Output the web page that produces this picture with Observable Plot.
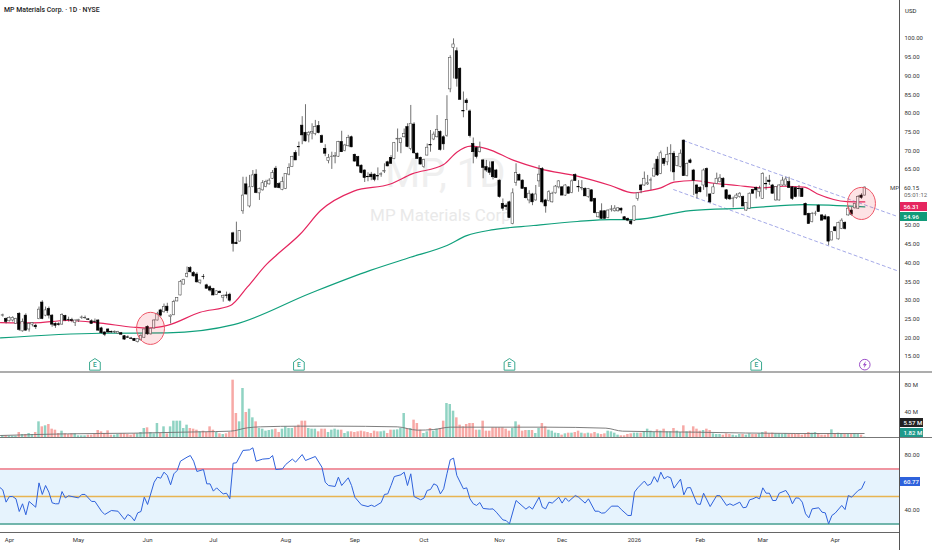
<!DOCTYPE html>
<html><head><meta charset="utf-8">
<script src="https://cdn.jsdelivr.net/npm/d3@7"></script>
<script src="https://cdn.jsdelivr.net/npm/@observablehq/plot@0.6"></script>
<style>
html,body{margin:0;padding:0;background:#fff;overflow:hidden}
#c{position:relative;width:932px;height:550px;font-family:Roboto,sans-serif;overflow:hidden}
#c>div.p{position:absolute;left:0}
.t{position:absolute;font-size:6px;line-height:9px;white-space:nowrap;color:#333}
.tag{position:absolute;left:900px;font-size:6px;height:9px;line-height:9px;padding:0 0 0 3.5px;color:#fff;font-weight:500;white-space:nowrap;box-sizing:content-box}
.l{position:absolute}
</style></head><body><div id="c"></div>
<script>
const opens=[25.9,25.0,24.4,24.6,23.7,26.4,21.7,25.9,22.2,23.5,
23.2,25.0,29.4,25.9,27.7,25.9,23.7,23.6,23.5,25.8,
24.8,24.7,23.9,24.5,25.3,25.2,24.9,24.4,24.3,24.6,
22.5,21.4,22.2,21.5,21.4,21.1,21.2,20.4,20.1,19.8,
19.7,18.8,19.3,20.0,22.9,20.9,22.5,24.6,27.3,26.8,
28.3,25.5,26.0,29.7,31.3,34.2,36.2,38.6,37.3,36.9,
34.6,36.3,34.0,33.5,33.0,31.4,32.3,30.7,31.3,31.5,
47.9,45.4,45.7,53.8,61.0,55.1,60.3,63.6,58.6,59.4,
60.3,61.0,62.5,65.2,61.1,59.5,59.8,63.6,65.6,69.4,
71.0,76.7,74.8,74.1,74.6,74.5,76.6,73.9,70.5,67.2,
68.3,68.3,68.4,72.3,69.9,71.2,73.6,68.9,68.3,66.0,
64.7,63.0,63.6,63.6,63.2,63.6,64.4,66.9,68.1,67.8,
73.0,72.0,73.6,76.3,70.5,77.0,69.2,68.1,65.6,68.7,
71.5,73.0,73.6,75.0,73.6,74.0,86.4,97.5,96.6,91.9,
80.6,83.4,80.5,71.8,70.7,69.6,67.4,65.6,65.3,66.9,
64.7,62.0,55.8,55.3,56.2,50.4,61.4,63.5,62.0,60.0,
56.7,58.3,56.7,61.8,65.1,56.7,56.5,56.2,58.6,60.2,
60.2,58.0,60.2,58.7,63.5,60.3,59.9,59.8,57.6,59.4,
57.1,52.2,53.8,53.8,52.0,54.2,53.8,53.8,54.5,52.2,
51.8,51.1,51.3,57.1,60.7,60.7,61.0,62.0,63.1,67.6,
63.8,67.8,66.9,69.0,69.2,65.9,65.6,72.7,63.2,67.4,
64.7,60.7,60.1,60.7,65.1,58.3,58.5,61.1,61.6,62.5,
59.4,58.0,57.1,57.3,57.6,57.6,54.0,54.5,59.5,60.0,
58.9,57.1,61.1,62.0,60.7,56.7,56.7,60.7,60.7,61.6,
60.2,60.0,59.8,59.8,55.8,53.1,50.9,53.1,55.3,52.7,
52.4,52.2,46.0,49.5,46.3,49.1,50.7,52.7,54.0,54.6,
54.5,58.0,58.0];
const highs=[26.3,25.3,25.6,25.6,25.2,26.7,25.0,26.4,23.9,24.0,
23.6,28.2,29.9,28.2,28.2,26.2,24.0,24.0,26.4,26.0,
25.5,25.2,24.7,24.9,25.8,25.8,25.1,24.8,25.0,24.8,
22.8,21.6,22.4,21.8,21.8,21.7,21.4,20.6,20.5,20.1,
19.8,19.8,20.8,22.3,23.2,22.5,24.8,26.8,27.6,29.0,
29.2,26.1,30.0,30.7,35.3,35.6,38.9,39.0,37.7,37.4,
35.3,36.9,34.3,33.9,33.2,32.5,32.5,31.4,32.2,31.9,
48.2,50.9,48.6,62.9,62.9,63.4,64.7,64.9,60.0,62.0,
62.1,62.5,64.7,65.8,61.5,62.9,63.9,66.5,68.5,70.0,
72.3,79.1,82.3,75.1,77.2,78.1,77.8,74.2,71.6,69.0,
69.6,69.5,72.5,75.2,71.7,74.1,73.9,69.1,68.5,66.2,
64.9,64.1,64.2,63.8,65.4,64.1,66.5,67.2,68.7,72.2,
75.8,73.4,75.8,77.2,82.1,77.5,69.4,68.3,67.7,71.8,
75.4,75.0,79.4,75.3,74.0,84.7,95.4,99.9,97.5,92.2,
85.7,83.9,80.9,73.4,71.0,72.3,67.6,67.4,67.0,67.1,
65.0,62.2,57.1,55.8,56.5,59.8,66.5,63.8,62.2,60.2,
59.3,58.6,60.7,66.0,65.5,57.0,59.3,58.9,60.7,62.0,
60.4,60.9,60.4,62.2,63.8,62.0,62.0,60.1,59.9,59.6,
57.3,53.3,55.8,54.0,54.2,55.3,55.3,54.8,54.7,52.4,
52.0,51.5,55.2,58.7,61.0,64.3,63.4,62.7,66.5,68.4,
69.9,68.0,70.9,71.6,69.8,68.3,70.2,72.9,66.7,67.8,
65.0,61.0,60.4,65.1,65.4,58.5,61.1,64.0,63.6,62.8,
59.6,58.2,57.6,58.5,58.8,57.9,56.0,58.7,59.7,60.3,
60.5,64.1,62.9,63.4,61.0,60.4,60.9,62.9,62.9,62.9,
60.4,60.3,60.7,60.0,56.0,53.3,53.5,53.8,55.5,52.9,
52.9,52.4,48.3,49.7,50.9,51.8,51.0,55.0,54.8,55.9,
58.0,58.5,60.3];
const lows=[25.5,23.7,24.2,24.2,23.6,21.7,21.5,21.7,21.5,22.9,
22.2,24.8,24.8,25.6,25.0,22.8,22.5,23.1,23.4,24.3,
24.2,24.0,23.0,24.1,24.9,24.9,24.6,23.6,23.8,21.7,
21.0,20.3,21.2,21.2,21.1,21.0,20.7,19.3,19.8,19.5,
19.0,18.6,19.1,19.8,20.6,20.7,22.3,24.5,25.5,26.6,
26.5,23.7,25.9,29.6,31.2,34.1,36.0,37.3,36.2,34.6,
34.2,35.5,33.0,32.2,31.2,31.3,31.8,29.5,30.4,29.5,
42.9,44.9,45.6,53.0,58.1,54.7,60.1,58.5,56.7,59.2,
60.1,60.8,62.3,59.9,59.8,59.3,59.6,63.3,65.5,67.4,
68.5,71.6,72.3,72.1,72.9,74.0,74.5,72.0,68.4,66.5,
65.0,66.5,68.2,69.5,69.7,71.0,70.8,66.9,65.6,63.8,
61.5,61.7,62.0,61.7,62.0,62.9,63.9,65.7,66.4,67.6,
69.6,69.2,73.4,70.8,70.0,69.1,67.7,66.2,65.3,68.6,
69.6,72.7,73.4,69.9,70.1,73.6,85.5,89.2,87.0,83.6,
78.8,80.7,73.4,66.5,67.8,69.4,62.5,64.2,63.4,62.2,
62.7,57.3,53.8,54.0,52.0,50.2,60.5,62.0,59.8,57.1,
55.8,55.3,56.5,60.2,55.8,53.3,56.3,56.0,58.4,59.8,
58.0,57.8,58.4,58.5,61.8,58.9,59.3,57.8,57.3,56.3,
53.1,52.0,51.6,51.6,51.8,53.6,53.6,53.6,53.1,51.4,
51.0,50.0,51.1,56.5,58.5,60.5,60.7,59.4,62.9,63.1,
63.6,65.8,66.0,64.3,61.9,65.7,65.4,63.2,63.0,66.5,
58.0,57.1,58.7,59.4,57.6,55.8,58.3,60.9,61.4,60.1,
56.7,56.7,54.7,57.0,57.3,55.0,53.8,54.3,58.3,57.1,
57.6,57.0,59.4,60.7,58.4,56.5,56.5,60.5,60.5,60.0,
56.7,57.4,57.6,57.6,52.7,50.4,50.7,52.5,53.5,51.3,
51.5,44.6,45.9,48.3,46.1,48.9,48.8,52.5,52.5,54.4,
54.3,57.0,57.9];
const closes=[26.0,24.2,25.3,25.3,25.0,22.1,24.2,21.9,23.7,23.9,
22.8,27.5,25.0,27.3,25.9,23.5,23.2,23.4,26.1,24.6,
24.7,24.5,24.6,24.8,25.4,25.3,24.8,23.7,24.2,21.9,
21.2,20.8,21.4,21.4,21.6,21.5,20.8,19.5,20.0,19.7,
19.1,19.7,20.5,22.2,20.9,22.4,24.6,26.4,25.9,28.2,
27.1,25.9,29.5,30.6,34.9,35.5,37.1,37.5,36.4,34.8,
35.3,36.2,33.1,32.6,31.3,32.4,31.9,31.2,31.2,29.9,
45.1,45.0,48.5,58.0,58.3,60.2,63.4,58.7,59.8,61.3,
61.6,62.0,64.0,60.1,60.0,61.6,63.8,65.4,68.3,67.4,
70.9,74.1,72.5,74.8,75.0,76.3,74.7,72.1,69.2,68.1,
68.4,68.6,72.3,69.6,71.4,73.4,70.9,67.1,65.8,64.0,
62.7,62.9,62.9,62.2,63.1,63.7,64.6,65.8,66.5,72.0,
73.2,73.2,74.5,71.0,77.2,69.3,67.8,66.3,67.5,70.8,
71.4,74.3,75.6,70.2,71.7,78.2,94.8,98.4,89.2,83.6,
80.5,82.7,73.9,69.6,68.3,70.8,65.4,64.7,64.1,62.9,
62.7,57.6,54.5,54.9,52.0,58.6,64.0,62.0,59.8,57.3,
58.5,56.2,58.3,63.6,56.2,55.1,58.9,58.5,60.4,61.8,
58.0,60.7,58.5,61.8,61.9,60.2,60.0,57.8,59.8,56.4,
53.3,53.3,51.8,51.8,54.0,54.3,54.5,54.6,54.0,51.5,
51.3,50.4,55.1,58.6,59.4,62.5,61.3,62.1,65.2,63.4,
69.3,66.5,68.9,69.1,64.2,68.3,69.2,63.2,66.5,66.7,
62.0,58.5,58.9,64.7,60.2,56.2,60.2,62.5,62.6,60.2,
57.1,57.0,57.2,58.0,58.5,55.1,56.0,58.5,58.5,59.4,
59.8,63.8,61.0,61.6,58.5,60.3,60.7,62.0,62.3,60.0,
57.1,57.6,59.7,57.6,52.7,50.4,53.1,53.2,53.6,51.3,
51.6,45.7,48.2,48.5,50.7,51.3,49.1,54.5,52.9,55.8,
57.6,57.4,60.15];
const volumes=[4,4,3.5,3.5,3.5,9,6,6,7.5,6,
9,25,17.5,19,21,14,12.5,7.5,11,7,
6,7,7,4,4,4,5,5,6,12,
10,7.5,11.5,5,5,6,7,7,6,5,
7,7,9,15,16,9,7,22.5,7.5,17.5,
7,17.5,26,26,26,15,20,15,14,12.5,
10,11,9,17.5,12.5,9,7,6,7,9,
87.5,37.5,25,75,39,44,31,25,15,14,
11,12,13,14,9,14,17.5,15,15,17.5,
20,26,26,15,14,14,10,14,14,9,
12.5,14,12.5,12.5,7.5,10,10,9,10,11,
10,9,7.5,11,10,10,11,7.5,12.5,12.5,
13,15,37.5,15,15,27.5,22.5,12.5,7.5,10,
15,11,14,15,26,52.5,51,41,31,20,
17.5,21,22.5,22.5,12.5,12.5,26,11,11,16,
16,16,16,14,11,15,25,20,11,12,
12,12,7.5,15,22.5,17.5,12.5,11,8,7.5,
5,7,8,8,9,11,8,7,8,7,
9,7,6,7,11,10,8,5,4,4,
6,7,8,8,8,10,14,11,9,13,
11,14,10,10,15,11,9,19,10,11,
17.5,14,11,12,14,12,7,6,6,5,
7,6,5,4,6,6,5,7,6,6,
7,9,10,7,8,7,7,6,7,6,
6,7,6,5,6,9,8,9,7,5,
5,7,13,7,8,7,6,6,6,7,
6,5,2];

const volMaBars=[-0.7,19.6,39.8,60,69.2,74.3,78.3,90.5,100.6,119.9,126,131,136,139.7,165,183.3,188.4,210.6,241,261.8];
const volMaValues=[4.5,7,8,10,11,16,17.5,18.5,18.5,17.5,12.5,13.5,17,17,17,15.5,11,9.5,7.5,7.5];

const ema50Bars=[-0.7,9.4,19.5,29.7,39.8,43.9,50,60,69.2,74.3,80.3,83.4,90.5,96.6,106.7,117.8,124.4,134,138,142.2,147.2,155.3,163.4,174.6,184.7,191.8,194.8,200,204,210,216.1,223.2,230.3,237.4,243.5,247.5,256.6,262];
const ema50Values=[24.06,23.97,24.6,23.9,22.8,22.6,23.3,26.8,28.6,33.5,39.75,42.25,47.8,54,59.2,61.1,63.8,66.3,69.6,71.2,70.5,67.4,65.15,63.2,60.7,58.7,59.1,60.07,61.6,62.03,61.3,60.7,60.07,60.5,60.25,58.5,56.4,56.31];
const ema200Bars=[-0.7,29.7,50,70.2,93.5,111.7,123.9,135,141,149.2,161.3,174.6,184.7,191.8,209,227.2,243.4,262];
const ema200Values=[19.96,21.2,21.3,23.5,31.9,38,41.5,44.65,47.3,48.9,50,51.07,51.6,51.6,54,54.7,55.6,54.96];

const rsiBars=[-1,0,1,2,3,4,5,6,7,8,10,11,12,13,14,15,16,17,18,19,20,23,24,25,27,28,30,31,33,35,37,38,39,40,41,42,43,44,46,47,48,49,50,51,52,53,54,56,57,58,59,61,62,63,64,65,66,67,68,69,70,71,73,75,76,77,79,81,82,83,85,86,88,89,91,92,95,97,98,99,101,102,103,105,106,107,109,111,112,113,115,116,117,118,119,121,122,123,124,125,127,128,129,130,131,132,133,134,135,136,137,138,140,141,142,143,144,145,146,148,149,150,152,153,154,156,159,160,161,163,164,165,166,167,169,170,171,172,174,175,177,178,180,181,182,183,185,187,188,190,191,192,193,195,196,197,198,199,200,201,202,203,204,206,207,208,209,211,212,213,215,217,218,220,221,222,224,225,226,227,228,229,230,231,232,233,234,235,236,238,239,240,241,242,243,244,245,246,248,249,250,251,252,253,255,256,257,258,260,261,262];
const rsiValues=[56.8,54.8,45.9,50,50,48.3,39.1,44.7,36.7,46.4,42.2,59.9,51.5,58,53.2,45.4,44.7,44.7,53.6,49,50.5,49,51.5,51.5,46.4,46.4,39.3,36.9,39.8,39.3,33.3,36.9,35.5,32.3,38.1,39.1,49.5,44.2,60.4,64.1,63.3,67.7,65.3,58.5,66.5,68.9,75.7,78.6,79.8,75.7,68.2,69.6,59.2,59.2,53.9,56.3,53.9,51.9,52.4,48.3,74.2,74.5,83.5,83.9,85.4,75.7,77.2,77.6,79.8,69.6,70.1,73.3,77.2,75,80.5,76.2,79.1,71.3,60.4,58,57.3,64.1,58,63.6,58,49.5,43.9,42.7,43.7,42.7,45.6,51.5,51.9,58,64.5,65.8,67.7,58,66.5,50,47.6,48.8,54.4,55.1,59.2,58,51.9,55.6,66.5,76.7,77.9,65.3,55.6,56.3,48.3,44.7,43.5,45.6,41.3,40.8,41,38.6,33,32.5,30.1,47.1,40.8,42.7,40.8,49.5,42.2,41,45.9,45.2,49.5,45.2,49,46.4,50.7,49.5,45.2,48.3,39.3,39.3,37.9,38.1,43,43,40.5,36.2,36.2,53.2,56.3,61.2,58,59.2,64.5,60.4,67.7,62.8,64.5,63.6,56.1,62.6,51.2,56.3,56.5,44.7,44.2,52.4,42.7,50.7,50.5,43.5,44.7,43.5,45.9,41.8,42.2,47.6,48.3,49.5,48.3,56.3,52.4,52.4,47.1,47.1,52.4,54.4,50.7,44.7,49,48.8,45.9,37.4,34.5,41,41.8,38.6,38.1,30.1,36.2,37.9,43.5,40.5,50.7,49.5,54.4,55.6,60.77];

const priceTicks=[15,20,25,30,35,40,45,50,65,70,75,80,85,90,95,100];
const volTicks=[40,80];
const rsiTicks=[40,80];
const rsiLevels=[70,50,30];
const monthBars=[2,23,44,64,86,107,128,151,170,192,212,231,253];
const monthNames=["Apr","May","Jun","Jul","Aug","Sep","Oct","Nov","Dec","2026","Feb","Mar","Apr"];
const earningsBars=[28,90,154,229];
const dividendBars=[262];
const markerPrice=12.8;
const circleBars=[44.9,261];
const circlePrices=[22.5,55.9];
const channelUpperBars=[206.9,272],channelUpperPrices=[72.7,52.4];
const channelLowerBars=[203.9,272.2],channelLowerPrices=[59.6,37.8];

const xDomain=[-0.7,272.55];
const font="Roboto,sans-serif";
const bars=opens.map((o,i)=>({i,o,h:highs[i],l:lows[i],c:closes[i],v:volumes[i],up:closes[i]>=o}));
const pair=(xs,ys)=>xs.map((x,k)=>({x,y:ys[k]}));
const base={width:932,marginLeft:0,marginRight:33,marginTop:0,marginBottom:0,style:{fontFamily:font,background:"transparent",display:"block",overflow:"visible"}};
const xScale={domain:xDomain,range:[0,899],axis:null};

function ellipseSymbol(){return{draw(ctx,size){const r=Math.sqrt(size/Math.PI),rx=r*0.93,ry=r*1.07,k=0.5523;
 ctx.moveTo(rx,0);ctx.bezierCurveTo(rx,k*ry,k*rx,ry,0,ry);ctx.bezierCurveTo(-k*rx,ry,-rx,k*ry,-rx,0);ctx.bezierCurveTo(-rx,-k*ry,-k*rx,-ry,0,-ry);ctx.bezierCurveTo(k*rx,-ry,rx,-k*ry,rx,0);ctx.closePath();}}}
function houseSymbol(){return{draw(ctx,size){const r=Math.sqrt(size/Math.PI);
 ctx.moveTo(0,-r*1.05);ctx.lineTo(r*.92,-r*.45);ctx.lineTo(r*.92,r*.95);ctx.lineTo(-r*.92,r*.95);ctx.lineTo(-r*.92,-r*.45);ctx.closePath();}}}
function boltSymbol(){return{draw(ctx,size){const r=Math.sqrt(size/Math.PI);
 ctx.moveTo(r*.3,-r);ctx.lineTo(-r*.55,r*.15);ctx.lineTo(-r*.05,r*.15);ctx.lineTo(-r*.3,r);ctx.lineTo(r*.55,-r*.2);ctx.lineTo(r*.05,-r*.2);ctx.closePath();}}}

const price=Plot.plot({...base,height:372,x:xScale,y:{domain:[10.7,110.16],axis:null},marks:[
 Plot.text([{x:134.5,y:60.2,t:"MP, 1D"}],{x:"x",y:"y",text:"t",fontSize:40,fill:"#efefef",lineAnchor:"bottom",fontFamily:font}),
 Plot.text([{x:133.7,y:51.3,t:"MP Materials Corp."}],{x:"x",y:"y",text:"t",fontSize:17,fill:"#e9e9e9",lineAnchor:"bottom",fontFamily:font}),
 Plot.line(pair(channelUpperBars,channelUpperPrices),{x:"x",y:"y",stroke:"#9a9fe4",strokeWidth:.9,strokeDasharray:"3,3"}),
 Plot.line(pair(channelLowerBars,channelLowerPrices),{x:"x",y:"y",stroke:"#9a9fe4",strokeWidth:.9,strokeDasharray:"3,3"}),
 Plot.line(pair(ema200Bars,ema200Values),{x:"x",y:"y",stroke:"#10a07c",strokeWidth:1.2,curve:"monotone-x"}),
 Plot.line(pair(ema50Bars,ema50Values),{x:"x",y:"y",stroke:"#e5265f",strokeWidth:1.2,curve:"monotone-x"}),
 Plot.ruleX(bars,{x:"i",y1:"l",y2:"h",stroke:"#333",strokeWidth:.7}),
 Plot.rect(bars,{x1:d=>d.i-.36,x2:d=>d.i+.36,y1:d=>Math.min(d.o,d.c),y2:d=>Math.max(d.o,d.c),fill:d=>d.up?"#fff":"#000",stroke:d=>d.up?"#555":"#000",strokeWidth:.6}),
 Plot.dot(pair(circleBars,circlePrices),{x:"x",y:"y",r:15,symbol:ellipseSymbol(),fill:"#f23645",fillOpacity:.14,stroke:"#ee5566",strokeWidth:1}),
 Plot.dot(earningsBars,{x:d=>d,y:()=>markerPrice,r:5.8,symbol:houseSymbol(),fill:"#fff",stroke:"#3aa98f",strokeWidth:1}),
 Plot.text(earningsBars,{x:d=>d,y:()=>markerPrice,text:()=>"E",fontSize:6.5,fontWeight:500,fill:"#2e9e84",dy:.5}),
 Plot.dot(dividendBars,{x:d=>d,y:()=>markerPrice,r:5.3,fill:"#fff",stroke:"#9c4fc9",strokeWidth:1}),
 Plot.dot(dividendBars,{x:d=>d,y:()=>markerPrice,r:3.6,symbol:boltSymbol(),fill:"#9c4fc9",stroke:"none"}),
 Plot.axisY(priceTicks,{anchor:"right",tickSize:0,tickPadding:5,fontSize:6,tickFormat:d=>d.toFixed(2),label:null,color:"#333"})
]});

const volume=Plot.plot({...base,height:66,x:xScale,y:{domain:[0,99],axis:null},marks:[
 Plot.rect(bars,{x1:d=>d.i-.38,x2:d=>d.i+.38,y1:0,y2:"v",fill:d=>d.up?"#90d3c3":"#f7a9a6"}),
 Plot.line(pair(volMaBars,volMaValues),{x:"x",y:"y",stroke:"#6f6f6f",strokeWidth:.9,curve:"monotone-x"}),
 Plot.axisY(volTicks,{anchor:"right",tickSize:0,tickPadding:5,fontSize:6,tickFormat:d=>d+" M",label:null,color:"#333"})
]});

const rsi=Plot.plot({...base,height:112,marginBottom:18,x:xScale,y:{domain:[23.82,92.18],axis:null},marks:[
 Plot.rect([0],{x1:xDomain[0],x2:xDomain[1],y1:rsiLevels[2],y2:rsiLevels[0],fill:"#e6f3fd"}),
 Plot.ruleY([rsiLevels[0]],{stroke:"#f23645",strokeWidth:1}),
 Plot.ruleY([rsiLevels[1]],{stroke:"#e8b452",strokeWidth:1.4}),
 Plot.ruleY([rsiLevels[2]],{stroke:"#459e90",strokeWidth:1.4}),
 Plot.line(pair(rsiBars,rsiValues),{x:"x",y:"y",stroke:"#2f62dc",strokeWidth:1}),
 Plot.axisY(rsiTicks,{anchor:"right",tickSize:0,tickPadding:5,fontSize:6,tickFormat:d=>d.toFixed(2),label:null,color:"#333"}),
 Plot.axisX(monthBars,{anchor:"bottom",tickSize:0,tickPadding:5,fontSize:6,tickFormat:d=>monthNames[monthBars.indexOf(d)],label:null,color:"#333"})
]});

const c=document.getElementById("c");
[[price,0],[volume,372],[rsi,438]].forEach(([p,top])=>{const d=document.createElement("div");d.className="p";d.style.top=top+"px";d.appendChild(p);c.appendChild(d);});
function line(l,t,w,h,bg){const d=document.createElement("div");d.className="l";d.style.cssText=`left:${l}px;top:${t}px;width:${w}px;height:${h}px;background:${bg}`;c.appendChild(d);}
line(0,371,932,2,"#adadad");line(0,437,932,1,"#777");line(0,532,899,1,"#666");line(899,0,1,550,"#555");
function txt(s,l,t,extra){const d=document.createElement("div");d.className="t";d.textContent=s;d.style.left=l+"px";d.style.top=t+"px";if(extra)d.style.cssText+=extra;c.appendChild(d);}
txt("MP Materials Corp. · 1D · NYSE",4,6,"font-size:6.9px;font-weight:500;color:#222");
txt("USD",905,6,"color:#222");
txt("MP",890,182.5,"color:#444");
txt("60.15",904,182.5);
txt("05:01:12",904,190,"color:#666");
function tag(s,t,bg,w){const d=document.createElement("div");d.className="tag";d.textContent=s;d.style.top=t+"px";d.style.background=bg;d.style.width=w+"px";c.appendChild(d);}
tag("56.31",201.5,"#e5265f",23);
tag("54.96",211.5,"#119a79",23);
tag("5.57 M",418,"#222",19);
tag("1.82 M",428,"#1f9a8b",19);
tag("60.77",477,"#2f62dc",16);
</script></body></html>
